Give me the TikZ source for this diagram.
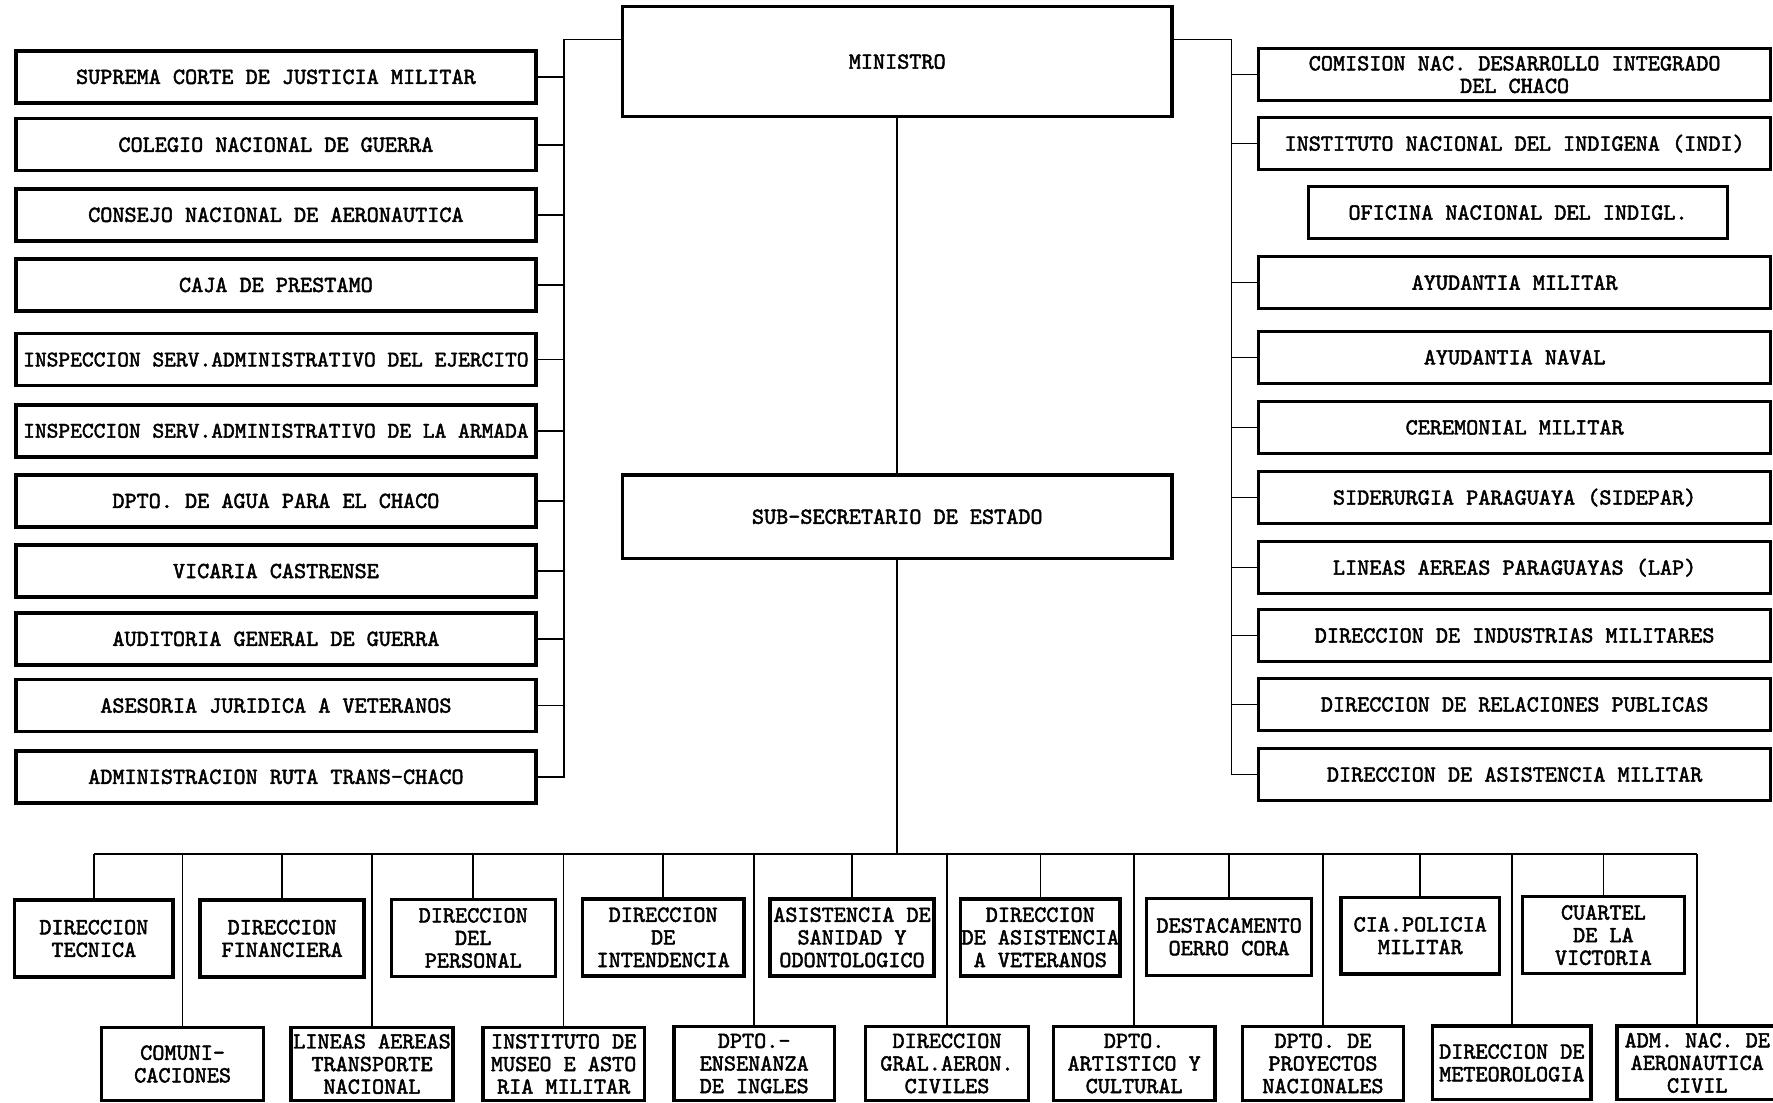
\documentclass[tikz,border=0pt]{standalone}
\usepackage{fontspec}
\newfontfamily\tw{lmmono10-regular.otf}[FakeBold=2]
\begin{document}
\begin{tikzpicture}[x=1pt,y=-1pt,
  box/.style={draw,line width=3pt,inner sep=0pt,align=center,
    font=\tw\fontsize{20.4}{20}\selectfont},
  lbox/.style={box,minimum width=460pt,minimum height=46pt},
  wide/.style={font=\tw\fontsize{19.8}{20}\selectfont},
  rbox/.style={box,minimum width=453pt,minimum height=46pt},
  ubox/.style={box,minimum height=68pt},
  dbox/.style={box,minimum height=65pt},
  topbox/.style={box,minimum width=486pt},
  ln/.style={line width=1.4pt}]
\fill[white] (0,0) rectangle (1568,975);
\useasboundingbox (0,0) rectangle (1568,975);
% top
\node[topbox,minimum height=97pt] (min) at (793.5,54.5) {MINISTRO};
\node[topbox,minimum height=74pt] (sub) at (793.5,457) {SUB-SECRETARIO DE ESTADO};
% left column
\node[lbox] (L1) at (244,68) {SUPREMA CORTE DE JUSTICIA MILITAR};
\node[lbox] (L2) at (244,128) {COLEGIO NACIONAL DE GUERRA};
\node[lbox] (L3) at (244,190) {CONSEJO NACIONAL DE AERONAUTICA};
\node[lbox] (L4) at (244,252) {CAJA DE PRESTAMO};
\node[lbox,wide] (L5) at (244,318) {INSPECCION SERV.ADMINISTRATIVO DEL EJERCITO};
\node[lbox,wide] (L6) at (244,381) {INSPECCION SERV.ADMINISTRATIVO DE LA ARMADA};
\node[lbox] (L7) at (244,443) {DPTO. DE AGUA PARA EL CHACO};
\node[lbox] (L8) at (244,505) {VICARIA CASTRENSE};
\node[lbox] (L9) at (244,565) {AUDITORIA GENERAL DE GUERRA};
\node[lbox] (L10) at (244,624) {ASESORIA JURIDICA A VETERANOS};
\node[lbox] (L11) at (244,687) {ADMINISTRACION RUTA TRANS-CHACO};
% right column
\node[rbox] (R1) at (1339.5,66) {COMISION NAC. DESARROLLO INTEGRADO\\DEL CHACO};
\node[rbox] (R2) at (1339.5,127) {INSTITUTO NACIONAL DEL INDIGENA (INDI)};
\node[box,minimum width=371pt,minimum height=46pt] (R3) at (1342.5,188) {OFICINA NACIONAL DEL INDIGL.};
\node[rbox] (R4) at (1339.5,250) {AYUDANTIA MILITAR};
\node[rbox] (R5) at (1339.5,316) {AYUDANTIA NAVAL};
\node[rbox] (R6) at (1339.5,378) {CEREMONIAL MILITAR};
\node[rbox] (R7) at (1339.5,440) {SIDERURGIA PARAGUAYA (SIDEPAR)};
\node[rbox] (R8) at (1339.5,502) {LINEAS AEREAS PARAGUAYAS (LAP)};
\node[rbox] (R9) at (1339.5,562) {DIRECCION DE INDUSTRIAS MILITARES};
\node[rbox] (R10) at (1339.5,623) {DIRECCION DE RELACIONES PUBLICAS};
\node[rbox] (R11) at (1339.5,685) {DIRECCION DE ASISTENCIA MILITAR};
% upper row
\node[ubox,minimum width=140pt] (U1) at (83,830) {DIRECCION\\TECNICA};
\node[ubox,minimum width=145pt] (U2) at (249.5,830) {DIRECCION\\FINANCIERA};
\node[ubox,minimum width=145pt] (U3) at (418.5,829.5) {DIRECCION\\DEL\\PERSONAL};
\node[ubox,minimum width=143pt] (U4) at (586.5,829) {DIRECCION\\DE\\INTENDENCIA};
\node[ubox,minimum width=145pt] (U5) at (753.5,829) {ASISTENCIA DE\\SANIDAD Y\\ODONTOLOGICO};
\node[ubox,minimum width=141pt] (U6) at (920,829) {DIRECCION\\DE ASISTENCIA\\A VETERANOS};
\node[ubox,minimum width=146pt] (U7) at (1087,828.5) {DESTACAMENTO\\OERRO CORA};
\node[ubox,minimum width=140pt] (U8) at (1256,827.5) {CIA.POLICIA\\MILITAR};
\node[ubox,minimum width=143pt] (U9) at (1418,827) {CUARTEL\\DE LA\\VICTORIA};
% lower row
\node[dbox,minimum width=143pt] (D1) at (161.5,941) {COMUNI-\\CACIONES};
\node[dbox,minimum width=143pt] (D2) at (329,941) {LINEAS AEREAS\\TRANSPORTE\\NACIONAL};
\node[dbox,minimum width=143pt] (D3) at (498.5,941) {INSTITUTO DE\\MUSEO E ASTO\\RIA MILITAR};
\node[dbox,minimum width=142pt] (D4) at (667,940.5) {DPTO.-\\ENSENANZA\\DE INGLES};
\node[dbox,minimum width=144pt] (D5) at (837.5,940.5) {DIRECCION\\GRAL.AERON.\\CIVILES};
\node[dbox,minimum width=143pt] (D6) at (1003,940.5) {DPTO.\\ARTISTICO Y\\CULTURAL};
\node[dbox,minimum width=142pt] (D7) at (1170,940.5) {DPTO. DE\\PROYECTOS\\NACIONALES};
\node[dbox,minimum width=140pt] (D8) at (1337,940) {DIRECCION DE\\METEOROLOGIA};
\node[dbox,minimum width=142pt] (D9) at (1501,940) {ADM. NAC. DE\\AERONAUTICA\\CIVIL};
% connectors
\coordinate (lt) at (499,35);
\coordinate (rt) at (1089,35);
\coordinate (bus) at (797,755);
\draw[ln] (min.west |- lt) -- (lt) |- (L11.east);
\foreach \i in {1,...,10} \draw[ln] (L\i.east) -- (L\i.east -| lt);
\draw[ln] (min.east |- rt) -- (rt) |- (R11.west);
\foreach \i in {1,2,4,5,6,7,8,9,10} \draw[ln] (R\i.west) -- (R\i.west -| rt);
\draw[ln] (min) -- (sub);
\draw[ln] (sub.south) -- (sub.south |- bus);
\draw[ln] (U1.north |- bus) -- (D9.north |- bus);
\foreach \n in {U1,U2,U3,U4,U5,U6,U7,U8,U9,D1,D2,D3,D4,D5,D6,D7,D8,D9}
  \draw[ln] (\n.north) -- (\n.north |- bus);
\end{tikzpicture}
\end{document}
